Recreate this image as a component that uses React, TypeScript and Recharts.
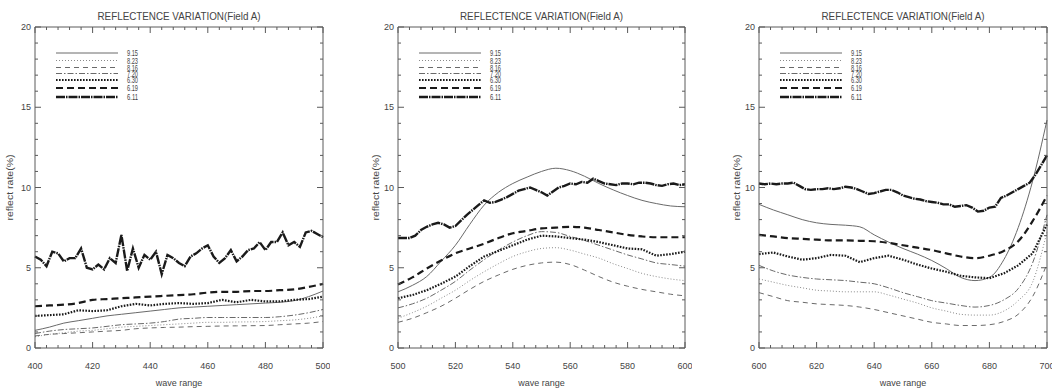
import { Line, LineChart, XAxis, YAxis } from "recharts";

// wavelengths (nm)
const wavesA = [400, 405, 410, 415, 420, 425, 430, 435, 440, 445, 450, 455, 460, 465, 470, 475, 480, 485, 490, 495, 500];
const wavesB = [500, 505, 510, 515, 520, 525, 530, 535, 540, 545, 550, 555, 560, 565, 570, 575, 580, 585, 590, 595, 600];
const wavesC = [600, 605, 610, 615, 620, 625, 630, 635, 640, 645, 650, 655, 660, 665, 670, 675, 680, 685, 690, 695, 700];
const fineA = [400, 402, 404, 406, 408, 410, 412, 414, 416, 418, 420, 422, 424, 426, 428, 430, 432, 434, 436, 438, 440, 442, 444, 446, 448, 450, 452, 454, 456, 458, 460, 462, 464, 466, 468, 470, 472, 474, 476, 478, 480, 482, 484, 486, 488, 490, 492, 494, 496, 498, 500];
const fineB = [500, 502, 504, 506, 508, 510, 512, 514, 516, 518, 520, 522, 524, 526, 528, 530, 532, 534, 536, 538, 540, 542, 544, 546, 548, 550, 552, 554, 556, 558, 560, 562, 564, 566, 568, 570, 572, 574, 576, 578, 580, 582, 584, 586, 588, 590, 592, 594, 596, 598, 600];
const fineC = [600, 602, 604, 606, 608, 610, 612, 614, 616, 618, 620, 622, 624, 626, 628, 630, 632, 634, 636, 638, 640, 642, 644, 646, 648, 650, 652, 654, 656, 658, 660, 662, 664, 666, 668, 670, 672, 674, 676, 678, 680, 682, 684, 686, 688, 690, 692, 694, 696, 698, 700];

const seriesNames = ["9.15", "8.23", "8.16", "7.20", "6.30", "6.19", "6.11"];

// panel A (400-500)
const a915 = [1.1, 1.3, 1.55, 1.7, 1.85, 2.0, 2.1, 2.2, 2.3, 2.4, 2.5, 2.55, 2.6, 2.65, 2.7, 2.75, 2.8, 2.85, 2.95, 3.2, 3.55];
const a823 = [0.7, 0.85, 0.95, 1.05, 1.1, 1.2, 1.3, 1.35, 1.4, 1.45, 1.5, 1.55, 1.6, 1.6, 1.62, 1.63, 1.65, 1.7, 1.75, 1.85, 2.0];
const a816 = [0.75, 0.85, 0.9, 0.95, 1.0, 1.05, 1.1, 1.2, 1.25, 1.28, 1.3, 1.33, 1.35, 1.37, 1.38, 1.39, 1.4, 1.45, 1.5, 1.55, 1.65];
const a720 = [0.9, 1.05, 1.15, 1.2, 1.25, 1.35, 1.45, 1.5, 1.55, 1.65, 1.8, 1.85, 1.9, 1.9, 1.9, 1.9, 1.9, 1.95, 2.05, 2.2, 2.4];
const a630 = [2.0, 2.05, 2.1, 2.35, 2.3, 2.35, 2.6, 2.75, 2.65, 2.75, 2.8, 2.75, 2.8, 3.0, 2.85, 3.0, 2.9, 2.9, 3.0, 3.05, 3.2];
const a619 = [2.6, 2.65, 2.7, 2.8, 3.0, 3.05, 3.1, 3.15, 3.2, 3.25, 3.3, 3.35, 3.45, 3.5, 3.5, 3.55, 3.55, 3.6, 3.65, 3.8, 4.0];
const a611 = [5.7, 5.5, 5.1, 6.0, 5.9, 5.4, 5.6, 5.6, 6.2, 5.0, 4.9, 5.2, 4.9, 5.6, 5.3, 7.05, 4.8, 6.2, 5.0, 5.8, 5.5, 6.0, 4.6, 5.8, 5.6, 5.3, 5.1, 5.7, 5.9, 6.2, 6.4, 5.7, 5.3, 5.6, 6.1, 5.4, 5.7, 6.1, 6.2, 6.6, 6.1, 6.6, 6.6, 7.2, 6.4, 6.6, 6.3, 7.2, 7.3, 7.1, 6.9];

// panel B (500-600)
const b915 = [3.5, 3.9, 4.45, 5.4, 6.4, 7.7, 8.9, 9.7, 10.25, 10.65, 11.0, 11.2, 11.05, 10.7, 10.25, 9.85, 9.5, 9.2, 9.0, 8.85, 8.8];
const b823 = [1.85, 2.2, 2.6, 3.1, 3.6, 4.2, 4.75, 5.25, 5.7, 6.0, 6.2, 6.25, 6.1, 5.85, 5.6, 5.25, 4.95, 4.65, 4.45, 4.3, 4.2];
const b816 = [1.6, 1.85, 2.2, 2.6, 3.1, 3.65, 4.15, 4.55, 4.9, 5.15, 5.3, 5.35, 5.2, 4.85, 4.45, 4.1, 3.85, 3.65, 3.5, 3.35, 3.25];
const b720 = [2.5, 2.75, 3.1, 3.6, 4.15, 4.85, 5.5, 6.1, 6.6, 7.0, 7.25, 7.2, 6.95, 6.7, 6.4, 6.1, 5.8, 5.55, 5.3, 5.2, 5.1];
const b630 = [3.1, 3.3, 3.6, 4.0, 4.45, 5.1, 5.7, 6.05, 6.4, 6.75, 7.0, 6.95, 6.85, 6.75, 6.6, 6.4, 6.2, 6.15, 5.75, 5.85, 6.0];
const b619 = [3.95, 4.4, 4.95, 5.45, 5.9, 6.2, 6.5, 6.85, 7.15, 7.3, 7.45, 7.5, 7.55, 7.5, 7.35, 7.2, 7.05, 6.95, 6.9, 6.9, 6.9];
const b611 = [6.85, 6.85, 6.85, 7.0, 7.35, 7.55, 7.7, 7.8, 7.7, 7.5, 7.6, 7.95, 8.3, 8.6, 8.9, 9.2, 9.05, 9.1, 9.25, 9.4, 9.6, 9.8, 9.9, 10.0, 9.85, 9.7, 9.5, 9.75, 10.0, 10.1, 10.25, 10.2, 10.35, 10.3, 10.55, 10.4, 10.25, 10.2, 10.15, 10.25, 10.25, 10.2, 10.3, 10.3, 10.25, 10.15, 10.1, 10.2, 10.25, 10.15, 10.2];

// panel C (600-700)
const c915 = [8.95, 8.6, 8.3, 8.0, 7.8, 7.7, 7.65, 7.55, 7.05, 6.6, 6.2, 5.85, 5.45, 4.95, 4.4, 4.2, 4.4, 5.5, 7.5, 10.4, 14.2];
const c823 = [4.3, 4.1, 3.9, 3.75, 3.6, 3.55, 3.5, 3.5, 3.5, 3.3, 3.05, 2.8, 2.5, 2.3, 2.1, 2.05, 2.05, 2.3, 2.95, 4.1, 7.25];
const c816 = [3.45, 3.2, 2.95, 2.85, 2.75, 2.7, 2.65, 2.55, 2.4, 2.2, 2.0, 1.8, 1.6, 1.5, 1.4, 1.4, 1.45, 1.65, 2.1, 3.2, 5.25];
const c720 = [5.15, 4.8, 4.55, 4.4, 4.3, 4.25, 4.2, 4.1, 4.0, 3.75, 3.45, 3.2, 2.95, 2.8, 2.65, 2.55, 2.65, 3.0, 3.7, 5.3, 8.3];
const c630 = [5.85, 5.95, 5.7, 5.5, 5.6, 5.8, 5.75, 5.35, 5.6, 5.75, 5.5, 5.2, 4.95, 4.75, 4.5, 4.4, 4.35, 4.65, 5.15, 5.9, 7.7];
const c619 = [7.05, 6.95, 6.85, 6.8, 6.75, 6.7, 6.7, 6.68, 6.65, 6.55, 6.4, 6.25, 6.1, 5.9, 5.7, 5.6, 5.75, 6.05, 6.65, 7.9, 9.5];
const c611 = [10.25, 10.2, 10.25, 10.2, 10.25, 10.25, 10.3, 10.1, 9.9, 9.85, 9.9, 9.9, 9.95, 9.9, 9.95, 10.05, 10.0, 9.9, 9.75, 9.6, 9.65, 9.75, 9.85, 9.85, 9.7, 9.5, 9.4, 9.3, 9.25, 9.15, 9.1, 9.05, 8.95, 8.95, 8.8, 8.85, 8.9, 8.75, 8.5, 8.55, 8.75, 8.8, 9.35, 9.5, 9.7, 9.9, 10.1, 10.3, 10.8, 11.4, 12.0];

const xTicksA = [400, 404, 408, 412, 416, 420, 424, 428, 432, 436, 440, 444, 448, 452, 456, 460, 464, 468, 472, 476, 480, 484, 488, 492, 496, 500];
const xTicksB = [500, 504, 508, 512, 516, 520, 524, 528, 532, 536, 540, 544, 548, 552, 556, 560, 564, 568, 572, 576, 580, 584, 588, 592, 596, 600];
const xTicksC = [600, 604, 608, 612, 616, 620, 624, 628, 632, 636, 640, 644, 648, 652, 656, 660, 664, 668, 672, 676, 680, 684, 688, 692, 696, 700];
const yTicks = [0, 1, 2, 3, 4, 5, 6, 7, 8, 9, 10, 11, 12, 13, 14, 15, 16, 17, 18, 19, 20];

const TITLE = "REFLECTENCE VARIATION(Field A)";
const Y_LABEL = "reflect rate(%)";
const X_LABEL = "wave range";

const H = 389;
const TOP = 27;
const X_AXIS_H = 41;
const AXIS = "#5a5a5a";
const TEXT = "#444";
const FONT = "'Liberation Sans', Arial, sans-serif";

const lineStyles = [
  { stroke: "#6a6a6a", width: 1, dash: undefined as string | undefined, smooth: true },
  { stroke: "#8a8a8a", width: 1, dash: "1 2", smooth: true },
  { stroke: "#6a6a6a", width: 1, dash: "5 4", smooth: true },
  { stroke: "#6a6a6a", width: 1, dash: "6 2 1.5 2", smooth: true },
  { stroke: "#1a1a1a", width: 2.2, dash: "1.6 1.4", smooth: false },
  { stroke: "#1a1a1a", width: 2.2, dash: "7 4", smooth: true },
  { stroke: "#1a1a1a", width: 2.4, dash: "9 1 1.5 1", smooth: false },
];

const legendY = [26, 33.5, 40.5, 46.5, 53, 61, 70];

const zip = (w: number[], v: number[]) => w.map((x, i) => ({ w: x, v: v[i] }));

function Panel({
  left,
  width,
  axisW,
  rightM,
  domain,
  xTicks,
  series,
  yLabelDx,
}: {
  left: number;
  width: number;
  axisW: number;
  rightM: number;
  domain: [number, number];
  xTicks: number[];
  series: Array<Array<{ w: number; v: number }>>;
  yLabelDx: number;
}) {
  const TM = 6;
  const plotW = width - axisW - rightM;
  const plotBottom = H - X_AXIS_H;
  const cx = axisW + plotW / 2;

  const bottomTick = (p: any) => {
    const v = p.payload.value;
    const major = v % 20 === 0;
    const ay = p.y - TM;
    return (
      <g>
        <line x1={p.x} x2={p.x} y1={ay} y2={ay - (major ? 6 : 3)} stroke={AXIS} strokeWidth={1} />
        {major && (
          <text x={p.x} y={ay + 21} textAnchor="middle" fontSize={9} fill={TEXT} fontFamily={FONT}>
            {v}
          </text>
        )}
      </g>
    );
  };
  const topTick = (p: any) => {
    const major = p.payload.value % 20 === 0;
    const ay = p.y + TM;
    return <line x1={p.x} x2={p.x} y1={ay} y2={ay + (major ? 6 : 3)} stroke={AXIS} strokeWidth={1} />;
  };
  const leftTick = (p: any) => {
    const v = p.payload.value;
    const major = v % 5 === 0;
    const ax = p.x + TM;
    return (
      <g>
        <line x1={ax} x2={ax + (major ? 6 : 3)} y1={p.y} y2={p.y} stroke={AXIS} strokeWidth={1} />
        {major && (
          <text x={ax - 4} y={p.y + 3} textAnchor="end" fontSize={9} fill={TEXT} fontFamily={FONT}>
            {v}
          </text>
        )}
      </g>
    );
  };
  const rightTick = (p: any) => {
    const major = p.payload.value % 5 === 0;
    const ax = p.x - TM;
    return <line x1={ax} x2={ax - (major ? 6 : 3)} y1={p.y} y2={p.y} stroke={AXIS} strokeWidth={1} />;
  };

  return (
    <div style={{ position: "absolute", left, top: 0, width, height: H }}>
      <LineChart width={width} height={H} margin={{ top: TOP - 1, right: rightM - 1, bottom: 0, left: 0 }}>
        <XAxis
          xAxisId="b"
          type="number"
          dataKey="w"
          domain={domain}
          ticks={xTicks}
          interval={0}
          tickSize={0}
          tickLine={false}
          tickMargin={TM}
          height={X_AXIS_H}
          stroke={AXIS}
          tick={bottomTick}
        />
        <XAxis
          xAxisId="t"
          orientation="top"
          type="number"
          dataKey="w"
          domain={domain}
          ticks={xTicks}
          interval={0}
          tickSize={0}
          tickLine={false}
          tickMargin={TM}
          height={1}
          stroke={AXIS}
          tick={topTick}
        />
        <YAxis
          yAxisId="l"
          type="number"
          domain={[0, 20]}
          ticks={yTicks}
          interval={0}
          tickSize={0}
          tickLine={false}
          tickMargin={TM}
          width={axisW}
          stroke={AXIS}
          tick={leftTick}
        />
        <YAxis
          yAxisId="r"
          orientation="right"
          type="number"
          domain={[0, 20]}
          ticks={yTicks}
          interval={0}
          tickSize={0}
          tickLine={false}
          tickMargin={TM}
          width={1}
          stroke={AXIS}
          tick={rightTick}
        />
        {series.map((s, i) => (
          <Line
            key={seriesNames[i]}
            xAxisId="b"
            yAxisId="l"
            data={s}
            dataKey="v"
            type={lineStyles[i].smooth ? "monotone" : "linear"}
            stroke={lineStyles[i].stroke}
            strokeWidth={lineStyles[i].width}
            strokeDasharray={lineStyles[i].dash}
            dot={false}
            activeDot={false}
            isAnimationActive={false}
          />
        ))}
        {/* invisible twin so the mirrored top/right axes get their ticks */}
        <Line
          xAxisId="t"
          yAxisId="r"
          data={series[0]}
          dataKey="v"
          stroke="none"
          strokeOpacity={0}
          dot={false}
          activeDot={false}
          legendType="none"
          isAnimationActive={false}
        />
      </LineChart>
      <svg width={width} height={H} style={{ position: "absolute", left: 0, top: 0, pointerEvents: "none" }}>
        <text x={cx} y={20} textAnchor="middle" fontSize={11.5} fill={TEXT} fontFamily={FONT} textLength={163} lengthAdjust="spacingAndGlyphs">
          {TITLE}
        </text>
        <text
          transform={`translate(${axisW + yLabelDx},${(TOP + plotBottom) / 2}) rotate(-90)`}
          textAnchor="middle"
          dominantBaseline="central"
          fontSize={8.5}
          fill={TEXT}
          fontFamily={FONT}
          textLength={66}
          lengthAdjust="spacingAndGlyphs"
        >
          {Y_LABEL}
        </text>
        <text x={cx} y={386} textAnchor="middle" fontSize={9} fill={TEXT} fontFamily={FONT}>
          {X_LABEL}
        </text>
        {seriesNames.map((name, i) => (
          <g key={name}>
            <line
              x1={axisW + 21}
              x2={axisW + 83}
              y1={TOP + legendY[i]}
              y2={TOP + legendY[i]}
              stroke={lineStyles[i].stroke}
              strokeWidth={lineStyles[i].width}
              strokeDasharray={lineStyles[i].dash}
            />
            <text
              x={axisW + 92}
              y={TOP + legendY[i]}
              dominantBaseline="central"
              fontSize={9}
              fill={TEXT}
              fontFamily={FONT}
              textLength={11}
              lengthAdjust="spacingAndGlyphs"
            >
              {name}
            </text>
          </g>
        ))}
      </svg>
    </div>
  );
}

export default function App() {
  const seriesA = [zip(wavesA, a915), zip(wavesA, a823), zip(wavesA, a816), zip(wavesA, a720), zip(wavesA, a630), zip(wavesA, a619), zip(fineA, a611)];
  const seriesB = [zip(wavesB, b915), zip(wavesB, b823), zip(wavesB, b816), zip(wavesB, b720), zip(wavesB, b630), zip(wavesB, b619), zip(fineB, b611)];
  const seriesC = [zip(wavesC, c915), zip(wavesC, c823), zip(wavesC, c816), zip(wavesC, c720), zip(wavesC, c630), zip(wavesC, c619), zip(fineC, c611)];
  return (
    <div style={{ position: "absolute", left: 0, top: 0, width: 1052, height: H, background: "#fff", overflow: "hidden" }}>
      <Panel left={0} width={330} axisW={35} rightM={7} domain={[400, 500]} xTicks={xTicksA} series={seriesA} yLabelDx={-25} />
      <Panel left={340} width={352} axisW={58} rightM={7} domain={[500, 600]} xTicks={xTicksB} series={seriesB} yLabelDx={-22} />
      <Panel left={700} width={352} axisW={59} rightM={5} domain={[600, 700]} xTicks={xTicksC} series={seriesC} yLabelDx={-22} />
    </div>
  );
}
